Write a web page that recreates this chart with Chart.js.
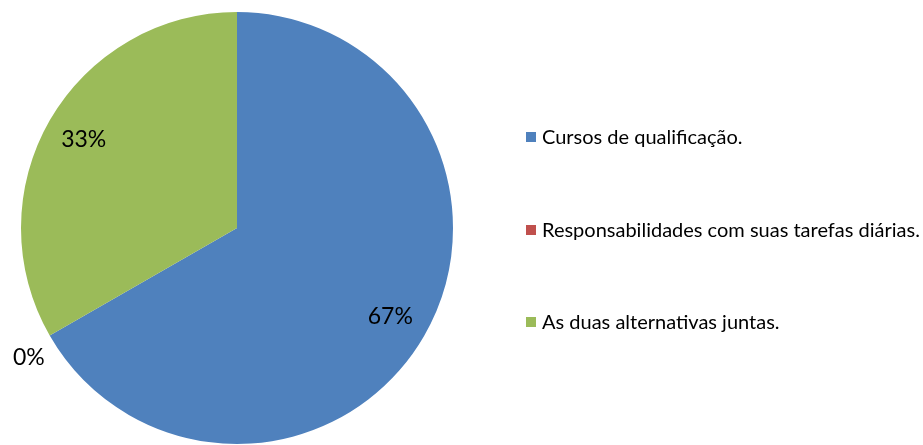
<!DOCTYPE html>
<html>
<head>
<meta charset="utf-8">
<script src="https://cdn.jsdelivr.net/npm/chart.js@4"></script>
<style>
  html, body { margin: 0; padding: 0; background: #fff; }
  #wrap { position: relative; width: 923px; height: 445px; }
</style>
</head>
<body>
<div id="wrap"><canvas id="chart"></canvas></div>
<script>
const categories = [
  "Cursos de qualificação.",
  "Responsabilidades com suas tarefas diárias.",
  "As duas alternativas juntas."
];
// slice sizes (angle) and the printed percentages
const values = [66.7, 0, 33.3];
const percentLabels = ["67%", "0%", "33%"];
const colors = ["#4F81BD", "#C0504D", "#9BBB59"];

const FONT = "Lato, 'Open Sans', sans-serif";

// percent labels inside slices (zero slice goes outside)
const sliceLabels = {
  id: "sliceLabels",
  afterDatasetsDraw(chart) {
    const ctx = chart.ctx;
    const meta = chart.getDatasetMeta(0);
    ctx.save();
    ctx.fillStyle = "#000";
    ctx.font = "23px " + FONT;
    ctx.textAlign = "center";
    ctx.textBaseline = "middle";
    meta.data.forEach((arc, i) => {
      const mid = (arc.startAngle + arc.endAngle) / 2;
      let r = arc.outerRadius * 0.82;
      let x = arc.x + Math.cos(mid) * r;
      let y = arc.y + Math.sin(mid) * r;
      if (values[i] === 0) {
        r = arc.outerRadius + 24;
        x = arc.x + Math.cos(mid) * r;
        y = arc.y + Math.sin(mid) * r + 10;
      }
      ctx.fillText(percentLabels[i], x, y);
    });
    ctx.restore();
  }
};

// legend drawn on the right like the original
const sideLegend = {
  id: "sideLegend",
  afterDraw(chart) {
    const ctx = chart.ctx;
    const ys = [137, 230, 322];
    ctx.save();
    ctx.font = "20px " + FONT;
    ctx.textBaseline = "middle";
    ctx.textAlign = "left";
    categories.forEach((c, i) => {
      ctx.fillStyle = colors[i];
      ctx.fillRect(526, ys[i] - 5, 10, 10);
      ctx.fillStyle = "#000";
      ctx.fillText(c, 542, ys[i] + 1);
    });
    ctx.restore();
  }
};

new Chart(document.getElementById("chart"), {
  type: "pie",
  data: {
    labels: categories,
    datasets: [{
      data: values,
      backgroundColor: colors,
      borderWidth: 0
    }]
  },
  options: {
    responsive: true,
    maintainAspectRatio: false,
    animation: false,
    layout: {
      padding: { left: 21, top: 12, right: 470, bottom: 1 }
    },
    plugins: {
      legend: { display: false },
      tooltip: { enabled: false }
    }
  },
  plugins: [sliceLabels, sideLegend]
});
</script>
</body>
</html>
